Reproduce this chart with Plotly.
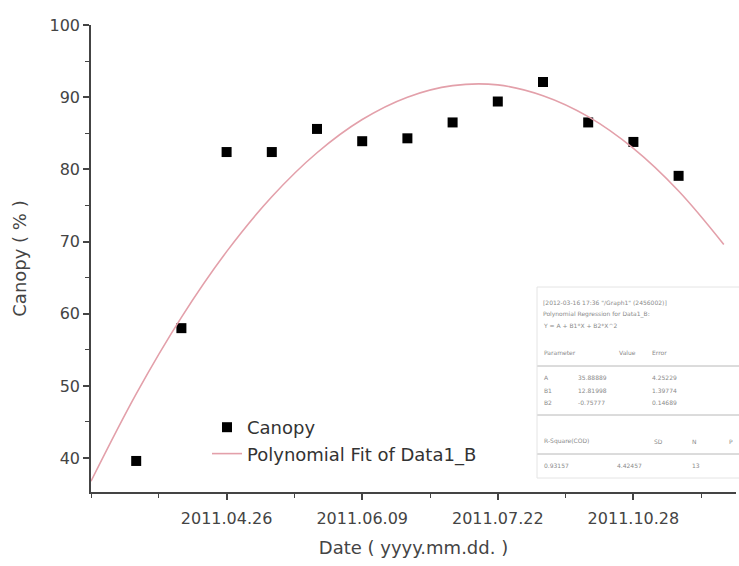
import plotly.graph_objects as go

# ---- data ----
sample_index = [1, 2, 3, 4, 5, 6, 7, 8, 9, 10, 11, 12, 13]
canopy = [39.6, 58.0, 82.4, 82.4, 85.6, 83.9, 84.3, 86.5, 89.4, 92.1, 86.5, 83.8, 79.1]

fit_x = [0, 1, 2, 3, 4, 5, 6, 7, 8, 9, 10, 11, 12, 13, 14]
fit_y = [36.8, 48.9, 59.5, 68.6, 76.2, 82.3, 86.9, 90.0, 91.6, 91.7, 90.2, 87.3, 82.9, 77.0, 69.6]

x_tick_vals = [3, 6, 9, 12]
x_tick_labels = ["2011.04.26", "2011.06.09", "2011.07.22", "2011.10.28"]
x_minor_vals = [0, 1.5, 4.5, 7.5, 10.5, 13.5]

table_header = ['[2012-03-16 17:36 "/Graph1" (2456002)]',
                "Polynomial Regression for Data1_B:",
                "Y = A + B1*X + B2*X^2"]
param_names = ["A", "B1", "B2"]
param_values = ["35.88889", "12.81998", "-0.75777"]
param_errors = ["4.25229", "1.39774", "0.14689"]
stat_names = ["R-Square(COD)", "SD", "N", "P"]
stat_values = ["0.93157", "4.42457", "13", ""]

FONT = "DejaVu Sans, Liberation Sans, Arial, sans-serif"

# pixel -> paper helpers (plot area 91..736 x, 25..492 y)
L, R, T, B = 91, 736, 25, 492
def px(x):
    return (x - L) / (R - L)
def py(y):
    return (B - y) / (B - T)

fig = go.Figure()
fig.add_trace(go.Scatter(
    x=sample_index, y=canopy, mode="markers", name="Canopy",
    marker=dict(symbol="square", size=10, color="black"),
))
fig.add_trace(go.Scatter(
    x=fit_x, y=fit_y, mode="lines", name="Polynomial Fit of Data1_B",
    line=dict(color="#e3a0aa", width=1.6, shape="spline"),
))

annotations = []
shapes = []
tcol = "#8a8a8a"
tsize = 6
def txt(x, y, s):
    annotations.append(dict(x=px(x), y=py(y), xref="paper", yref="paper", text=s,
                            showarrow=False, xanchor="left", yanchor="middle",
                            font=dict(family=FONT, size=tsize, color=tcol)))
def hline(y):
    shapes.append(dict(type="line", xref="paper", yref="paper", x0=px(537), x1=px(739),
                       y0=py(y), y1=py(y), line=dict(color="#b8b8b8", width=1)))

header_y = [303, 314, 325]
for i, s in enumerate(table_header):
    txt(541, header_y[i], s)
txt(542, 352, "Parameter")
txt(617, 352, "Value")
txt(650, 352, "Error")
hline(366)
for i in range(3):
    yy = 378 + i * 12
    txt(542, yy, param_names[i])
    txt(576, yy, param_values[i])
    txt(650, yy, param_errors[i])
hline(415)
stat_x = [542, 652, 690, 727]
for i in range(4):
    txt(stat_x[i], 441, stat_names[i])
hline(454)
val_x = [542, 615, 690, 727]
for i in range(4):
    txt(val_x[i], 465, stat_values[i])
shapes.append(dict(type="rect", xref="paper", yref="paper", x0=px(537), x1=px(740),
                   y0=py(478), y1=py(287), line=dict(color="#e4e4e4", width=1)))

fig.update_layout(
    width=739, height=566,
    margin=dict(l=L, r=739 - R, t=T, b=566 - B),
    paper_bgcolor="white", plot_bgcolor="white",
    font=dict(family=FONT, color="#444"),
    showlegend=True,
    legend=dict(x=px(207), y=py(409), xanchor="left", yanchor="top",
                bgcolor="rgba(0,0,0,0)", font=dict(size=18, color="#333"),
                tracegroupgap=0, itemwidth=30),
    annotations=annotations,
    shapes=shapes,
)
fig.update_xaxes(
    range=[0, 14.27], showline=True, linecolor="#444", linewidth=1.5,
    showgrid=False, zeroline=False,
    tickmode="array", tickvals=x_tick_vals, ticktext=x_tick_labels,
    ticks="outside", ticklen=6, tickwidth=1.5, tickcolor="#444",
    tickfont=dict(size=16, color="#444"), ticklabelstandoff=5,
    minor=dict(tickmode="array", tickvals=x_minor_vals, ticks="outside",
               ticklen=4, tickwidth=1.2, tickcolor="#444"),
    title=dict(text="Date ( yyyy.mm.dd. )", font=dict(size=18, color="#444"), standoff=14),
)
fig.update_yaxes(
    range=[35.3, 100], showline=True, linecolor="#444", linewidth=1.5,
    showgrid=False, zeroline=False,
    tickmode="linear", tick0=40, dtick=10,
    ticks="outside", ticklen=6, tickwidth=1.5, tickcolor="#444",
    tickfont=dict(size=16, color="#444"),
    minor=dict(dtick=5, tick0=40, ticks="outside", ticklen=4, tickwidth=1.2, tickcolor="#444"),
    title=dict(text="Canopy ( % )", font=dict(size=18, color="#444"), standoff=18),
)

fig.write_html("out.html")
